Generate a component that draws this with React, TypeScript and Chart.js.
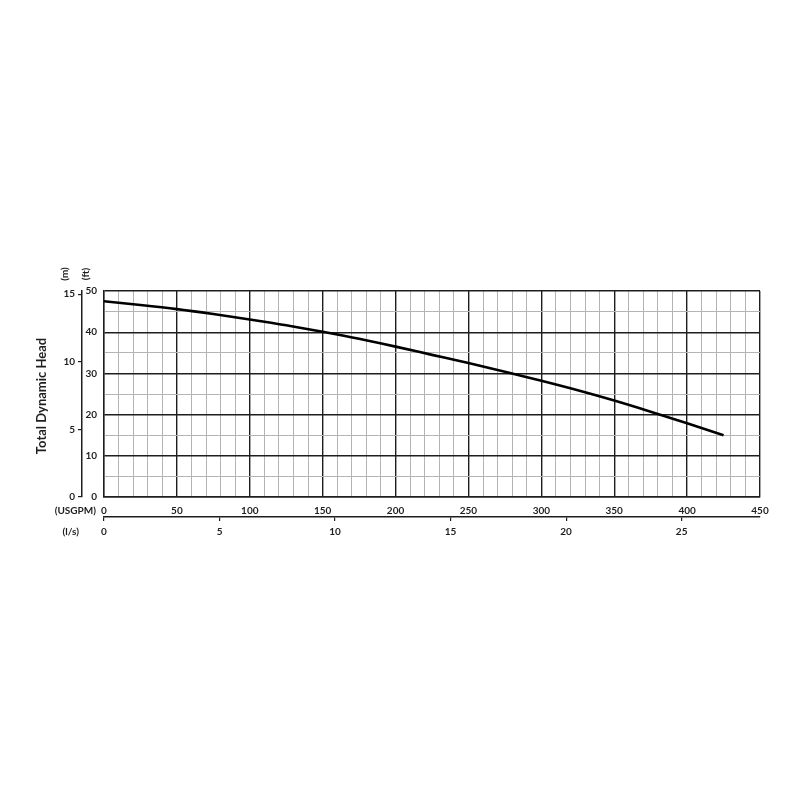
import { useEffect, useRef } from "react";
import { Chart, registerables } from "chart.js";

Chart.register(...registerables);

// pump curve
const flowUsgpm = [0, 25, 50, 75, 100, 125, 150, 175, 200, 225, 250, 275, 300, 325, 350, 375, 400, 425];
const headFt = [47.5, 46.6, 45.6, 44.4, 43.1, 41.7, 40.1, 38.4, 36.5, 34.5, 32.5, 30.4, 28.2, 25.9, 23.4, 20.7, 17.9, 15.0];

const usgpmLabels = [0, 50, 100, 150, 200, 250, 300, 350, 400, 450];
const ftLabels = [0, 10, 20, 30, 40, 50];
const mLabels = [0, 5, 10, 15];
const lsLabels = [0, 5, 10, 15, 20, 25];

const FT_PER_M = 3.2808;
const USGPM_PER_LS = 15.8503;

const FONT = "Lato, 'Liberation Sans', sans-serif";
const DARK = "#1e1e1e";
const LIGHT = "#b4b4b4";

const unitLabels = {
  id: "unitLabels",
  afterDraw(chart: Chart) {
    const { ctx, chartArea } = chart;
    ctx.save();
    ctx.fillStyle = DARK;

    // axis title
    ctx.font = `bold 13px ${FONT}`;
    ctx.textAlign = "center";
    ctx.textBaseline = "middle";
    ctx.save();
    ctx.translate(34, (chartArea.top + chartArea.bottom) / 2 + 2);
    ctx.rotate(-Math.PI / 2);
    ctx.fillText("Total Dynamic Head", 0, 0);
    ctx.restore();

    // units over the two left axes
    ctx.font = `bold 10px ${FONT}`;
    [["(m)", 57], ["(ft)", 78]].forEach(([t, x]) => {
      ctx.save();
      ctx.translate(x as number, chartArea.top - 17);
      ctx.rotate(-Math.PI / 2);
      ctx.fillText(t as string, 0, 0);
      ctx.restore();
    });

    // units in front of the two bottom axes
    ctx.textAlign = "right";
    ctx.fillText("(USGPM)", chartArea.left - 8, chartArea.bottom + 14);
    ctx.fillText("(l/s)", chartArea.left - 25, chartArea.bottom + 35);
    ctx.restore();
  },
};

export default function App() {
  const chartRef = useRef<HTMLCanvasElement | null>(null);
  const chartInstance = useRef<Chart | null>(null);

  useEffect(() => {
    if (!chartRef.current) return;
    if (chartInstance.current) chartInstance.current.destroy();

    const tickFont = { family: FONT, size: 10, weight: "bold" as const };

    chartInstance.current = new Chart(chartRef.current, {
      type: "line",
      data: {
        datasets: [
          {
            data: flowUsgpm.map((x, i) => ({ x, y: headFt[i] })),
            borderColor: "#000",
            borderWidth: 2.6,
            pointRadius: 0,
            cubicInterpolationMode: "monotone",
            xAxisID: "x",
            yAxisID: "y",
          },
        ],
      },
      options: {
        animation: false,
        responsive: true,
        maintainAspectRatio: false,
        layout: { padding: { left: 10, right: 32, top: 283, bottom: 243 } },
        plugins: { legend: { display: false }, tooltip: { enabled: false } },
        scales: {
          x: {
            type: "linear",
            position: "bottom",
            weight: 0,
            min: 0,
            max: 450,
            afterFit: (s: any) => {
              s.height = 20;
            },
            ticks: {
              stepSize: 10,
              autoSkip: false,
              maxRotation: 0,
              padding: 8,
              color: DARK,
              font: tickFont,
              callback: (v: any) => (usgpmLabels.includes(v) ? String(v) : ""),
            },
            grid: {
              drawTicks: false,
              color: (c: any) => (c.tick && c.tick.value % 50 === 0 ? DARK : LIGHT),
              lineWidth: (c: any) => (c.tick && c.tick.value % 50 === 0 ? 1.4 : 1),
            },
            border: { display: true, color: DARK, width: 1.4 },
          },
          xl: {
            type: "linear",
            position: "bottom",
            weight: 1,
            min: 0,
            max: 450 / USGPM_PER_LS,
            afterFit: (s: any) => {
              s.height = 32;
            },
            afterBuildTicks: (s: any) => {
              s.ticks = lsLabels.map((value) => ({ value }));
            },
            ticks: { padding: 5, maxRotation: 0, color: DARK, font: tickFont },
            grid: { drawOnChartArea: false, drawTicks: true, tickLength: 4, color: DARK, lineWidth: 1.2 },
            border: { display: true, color: DARK, width: 1.5 },
          },
          y: {
            type: "linear",
            position: "left",
            weight: 0,
            min: 0,
            max: 50,
            afterFit: (s: any) => {
              s.width = 22;
            },
            ticks: {
              stepSize: 5,
              autoSkip: false,
              padding: 7,
              color: DARK,
              font: tickFont,
              callback: (v: any) => (ftLabels.includes(v) ? String(v) : ""),
            },
            grid: {
              drawTicks: false,
              color: (c: any) => (c.tick && c.tick.value % 10 === 0 ? DARK : LIGHT),
              lineWidth: (c: any) => (c.tick && c.tick.value % 10 === 0 ? 1.4 : 1),
            },
            border: { display: true, color: DARK, width: 1.4 },
          },
          ym: {
            type: "linear",
            position: "left",
            weight: 1,
            min: 0,
            max: 50 / FT_PER_M,
            afterFit: (s: any) => {
              s.width = 64;
            },
            afterBuildTicks: (s: any) => {
              s.ticks = mLabels.map((value) => ({ value }));
            },
            ticks: { padding: 3, color: DARK, font: tickFont },
            grid: { drawOnChartArea: false, drawTicks: true, tickLength: 4, color: DARK, lineWidth: 1.2 },
            border: { display: true, color: DARK, width: 1.5 },
          },
        },
      },
      plugins: [unitLabels],
    });

    return () => {
      if (chartInstance.current) {
        chartInstance.current.destroy();
        chartInstance.current = null;
      }
    };
  }, []);

  return (
    <div style={{ width: 784, height: 784, background: "#fff" }}>
      <canvas ref={chartRef} />
    </div>
  );
}
